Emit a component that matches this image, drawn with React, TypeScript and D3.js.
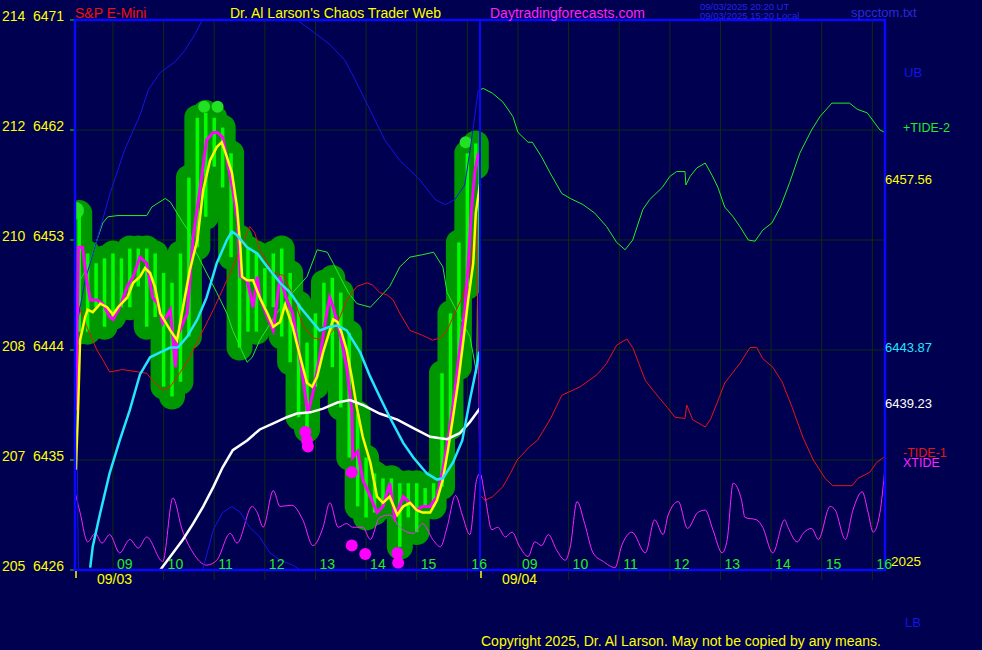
import * as d3 from "d3";

// time = minutes after 08:15 on 09/03 (the 09/04 session starts at 480)
type Pt = [number, number];

const priceTicks = [6471, 6462, 6453, 6444, 6435, 6426];
const altTicks = ["214", "212", "210", "208", "207", "205"];
const hourLabels = ["09", "10", "11", "12", "13", "14", "15", "16"];
const dayLabels = ["09/03", "09/04"];

const lastYellow = 6457.56;
const lastCyan = 6443.87;
const lastWhite = 6439.23;

// +TIDE-2
const tide2: Pt[] = [
  [6, 6449.7], [18, 6451.2], [26, 6453.0], [33, 6454.4], [39, 6454.9], [51, 6455.0], [85, 6455.0],
  [91, 6455.7], [107, 6456.4], [113, 6456.1], [121, 6455.2], [128, 6454.4], [136, 6453.6], [142, 6452.2],
  [156, 6450.3], [168, 6448.7], [180, 6447.0], [187, 6445.6], [196, 6444.2], [204, 6443.0], [210, 6443.4],
  [219, 6444.8], [239, 6447.0], [258, 6448.7], [275, 6450.0], [287, 6452.2], [299, 6452.0], [306, 6451.1],
  [314, 6450.0], [324, 6448.7], [334, 6447.8], [350, 6447.5], [361, 6448.3], [373, 6449.2], [385, 6450.8],
  [397, 6451.6], [412, 6451.8], [425, 6452.0], [436, 6450.8], [441, 6448.7], [456, 6446.7], [468, 6445.1],
  [476, 6442.1],
  [480, 6465.3], [484, 6465.4], [495, 6465.0], [507, 6464.3], [519, 6463.1], [525, 6461.8], [537, 6461.0],
  [542, 6461.0], [553, 6459.8], [563, 6458.5], [577, 6456.8], [587, 6456.4], [602, 6455.9], [616, 6455.2],
  [630, 6454.1], [642, 6452.8], [652, 6452.2], [661, 6453.0], [673, 6455.5], [681, 6456.3], [696, 6457.3],
  [705, 6458.2], [713, 6458.6], [723, 6458.6], [724, 6457.5], [729, 6458.2], [737, 6458.9], [747, 6459.3],
  [755, 6458.3], [762, 6457.3], [770, 6455.7], [780, 6454.9], [788, 6454.1], [798, 6453.0], [806, 6452.9],
  [815, 6453.8], [826, 6454.4], [836, 6455.7], [847, 6457.7], [859, 6460.1], [873, 6462.0], [883, 6463.1],
  [897, 6464.2], [918, 6464.2], [927, 6463.7], [939, 6463.4], [954, 6462.0], [960, 6461.8],
];

// -TIDE-1
const tide1: Pt[] = [
  [2, 6448.1], [8, 6446.9], [14, 6445.9], [26, 6444.0], [33, 6443.2], [41, 6442.2], [56, 6442.4],
  [85, 6442.1], [92, 6441.5], [104, 6440.7], [113, 6441.0], [124, 6442.1], [136, 6443.4], [148, 6445.1],
  [164, 6447.3], [180, 6449.7], [192, 6451.6], [204, 6453.6], [207, 6454.1], [213, 6453.6], [219, 6452.2],
  [235, 6450.3], [247, 6450.1], [258, 6448.5], [270, 6446.0], [282, 6445.0], [294, 6444.8], [306, 6445.6],
  [314, 6446.7], [322, 6448.1], [334, 6449.2], [346, 6449.5], [353, 6449.3], [361, 6448.7], [370, 6448.5],
  [377, 6448.1], [385, 6447.0], [397, 6445.6], [412, 6445.2], [424, 6444.8], [433, 6445.0], [441, 6445.6],
  [448, 6446.7], [459, 6448.3], [468, 6450.5], [476, 6455.2],
  [480, 6432.1], [486, 6431.7], [495, 6432.0], [507, 6432.8], [516, 6433.9], [524, 6435.0], [539, 6436.1],
  [548, 6436.6], [563, 6438.3], [577, 6440.3], [599, 6441.0], [619, 6442.0], [630, 6442.9], [642, 6444.4],
  [654, 6444.9], [661, 6444.2], [676, 6441.5], [685, 6440.7], [702, 6439.3], [711, 6438.5], [723, 6438.4],
  [725, 6439.5], [732, 6438.3], [747, 6437.7], [753, 6438.3], [764, 6440.2], [770, 6441.3], [788, 6442.9],
  [800, 6444.2], [808, 6444.2], [815, 6443.3], [827, 6442.6], [838, 6441.4], [850, 6439.3], [863, 6436.8],
  [875, 6435.0], [889, 6433.5], [898, 6432.9], [921, 6432.9], [928, 6433.5], [942, 6434.0], [950, 6434.8],
  [960, 6435.3],
];

// XTIDE
const xtide: Pt[] = [
  [0, 6432.4], [6, 6430.7], [15, 6428.3], [24, 6429.0], [32, 6428.2], [41, 6428.9], [53, 6427.4],
  [65, 6428.5], [75, 6427.8], [85, 6428.7], [104, 6426.7], [116, 6431.9], [127, 6429.3], [140, 6427.4],
  [156, 6426.4], [168, 6426.8], [184, 6429.0], [192, 6428.2], [210, 6431.2], [216, 6430.7], [223, 6429.5],
  [235, 6432.5], [243, 6431.2], [257, 6431.3], [270, 6430.1], [282, 6428.0], [294, 6429.5], [302, 6431.5],
  [312, 6429.5], [322, 6429.8], [329, 6429.5], [341, 6429.5], [350, 6428.5], [361, 6430.3], [373, 6430.5],
  [385, 6429.5], [401, 6429.0], [412, 6429.8], [424, 6428.5], [433, 6427.9], [441, 6429.5], [451, 6432.1],
  [459, 6430.5], [468, 6428.9], [476, 6433.4],
  [480, 6433.9], [486, 6432.0], [494, 6429.3], [501, 6429.5], [510, 6428.7], [518, 6429.1], [527, 6427.9],
  [537, 6427.1], [545, 6428.3], [553, 6428.0], [561, 6428.9], [571, 6427.6], [581, 6426.8], [587, 6427.9],
  [595, 6431.6], [604, 6429.8], [614, 6427.4], [626, 6426.7], [640, 6426.2], [648, 6428.0], [660, 6429.1],
  [676, 6427.4], [687, 6430.1], [697, 6428.9], [703, 6430.5], [715, 6431.6], [726, 6429.4], [738, 6430.7],
  [747, 6430.9], [756, 6429.3], [767, 6427.4], [773, 6428.5], [780, 6433.1], [790, 6431.7], [794, 6430.3],
  [808, 6430.1], [815, 6429.5], [827, 6427.4], [841, 6430.1], [845, 6429.5], [856, 6428.3], [863, 6429.0],
  [873, 6429.4], [881, 6428.5], [895, 6431.2], [901, 6430.9], [913, 6428.5], [922, 6430.9], [933, 6432.4],
  [940, 6430.7], [946, 6429.1], [954, 6430.7], [960, 6434.4],
];

// UB / LB bands (09/03 only)
const upperBand: Pt[] = [
  [1, 6445.6], [12, 6449.7], [26, 6453.0], [41, 6456.7], [59, 6460.4], [77, 6463.2], [87, 6465.3],
  [101, 6466.7], [119, 6467.6], [130, 6468.5], [142, 6469.8], [151, 6471.0], [172, 6472.6], [207, 6473.9],
  [243, 6473.1], [263, 6471.0], [279, 6470.2], [302, 6469.0], [320, 6467.7], [332, 6466.1], [350, 6463.6],
  [367, 6461.2], [385, 6459.5], [409, 6457.9], [427, 6456.3], [439, 6455.9], [450, 6456.3], [462, 6457.5],
  [470, 6461.2], [478, 6465.3],
];
const lowerBand: Pt[] = [
  [1, 6445.6], [2, 6439.9], [4, 6426.0], [5, 6421.9], [77, 6419.5], [136, 6421.9], [152, 6426.2],
  [164, 6429.3], [175, 6430.7], [186, 6431.2], [196, 6430.7], [207, 6429.5], [219, 6428.7], [231, 6427.4],
  [243, 6426.8], [258, 6426.4], [267, 6426.0], [302, 6421.9], [478, 6420.0],
];

const cyanAvg: Pt[] = [
  [18, 6426.2], [21, 6427.9], [30, 6430.7], [41, 6433.9], [53, 6436.6], [65, 6439.1], [77, 6442.0],
  [89, 6443.4], [101, 6443.8], [113, 6444.2], [122, 6444.2], [133, 6445.1], [145, 6446.5], [156, 6448.3],
  [168, 6451.1], [180, 6453.0], [186, 6453.7], [192, 6453.4], [204, 6452.4], [216, 6451.9], [228, 6450.8],
  [243, 6449.5], [255, 6448.7], [267, 6447.5], [279, 6446.5], [290, 6445.6], [302, 6445.9], [311, 6446.0],
  [322, 6445.6], [329, 6444.8], [338, 6443.8], [350, 6441.8], [361, 6440.2], [373, 6438.5], [389, 6436.4],
  [401, 6435.2], [417, 6433.9], [429, 6433.4], [436, 6433.5], [448, 6434.8], [459, 6436.6], [468, 6439.9],
  [476, 6442.6], [479, lastCyan],
];

const whiteAvg: Pt[] = [
  [101, 6426.0], [113, 6427.1], [128, 6428.5], [140, 6429.8], [152, 6431.2], [164, 6432.8], [175, 6434.4],
  [187, 6435.8], [204, 6436.6], [219, 6437.5], [235, 6438.0], [251, 6438.5], [263, 6438.8], [279, 6438.9],
  [294, 6439.2], [311, 6439.7], [326, 6439.9], [341, 6439.5], [361, 6438.8], [382, 6438.3], [401, 6437.6],
  [421, 6436.9], [441, 6436.7], [456, 6437.2], [468, 6438.1], [480, lastWhite],
];

const yellowAvg: Pt[] = [
  [1, 6434.2], [4, 6439.9], [6, 6444.8], [12, 6446.7], [15, 6447.3], [21, 6447.1], [30, 6447.8],
  [38, 6447.5], [45, 6446.9], [51, 6447.5], [62, 6448.3], [69, 6449.5], [77, 6450.0], [83, 6450.7],
  [89, 6450.3], [95, 6449.1], [101, 6447.0], [113, 6445.6], [121, 6444.8], [128, 6447.5], [136, 6450.5],
  [145, 6453.0], [152, 6457.1], [160, 6459.5], [168, 6460.6], [174, 6461.0], [180, 6459.8], [186, 6458.5],
  [192, 6455.7], [196, 6452.4], [198, 6450.0], [204, 6449.7], [211, 6449.7], [219, 6448.3], [228, 6447.0],
  [235, 6445.9], [243, 6446.3], [249, 6447.7], [258, 6445.9], [267, 6443.4], [275, 6441.3], [281, 6441.0],
  [287, 6441.8], [294, 6443.8], [302, 6445.6], [306, 6446.5], [311, 6446.3], [316, 6445.4], [322, 6444.0],
  [328, 6441.8], [334, 6439.3], [341, 6436.9], [350, 6434.8], [358, 6432.0], [365, 6431.5], [373, 6432.0],
  [382, 6430.5], [389, 6431.2], [397, 6431.5], [405, 6430.9], [412, 6430.7], [421, 6430.7], [429, 6431.7],
  [436, 6433.4], [442, 6435.8], [448, 6438.5], [454, 6441.3], [460, 6444.6], [466, 6448.1], [472, 6451.1],
  [475, 6455.2], [480, lastYellow],
];

const closeLine: Pt[] = [
  [1, 6439.1], [4, 6452.4], [9, 6452.4], [14, 6449.7], [18, 6448.1], [26, 6448.1], [33, 6447.8],
  [41, 6446.7], [45, 6446.5], [53, 6447.5], [62, 6449.2], [69, 6450.0], [77, 6451.6], [85, 6451.1],
  [92, 6448.3], [98, 6447.8], [104, 6446.2], [113, 6447.3], [119, 6442.6], [121, 6445.1], [133, 6447.0],
  [140, 6453.2], [148, 6457.1], [156, 6461.2], [164, 6461.8], [169, 6461.8], [175, 6461.4], [181, 6459.3],
  [187, 6457.1], [193, 6454.4], [196, 6450.0], [204, 6449.7], [211, 6447.5], [216, 6450.0], [219, 6448.3],
  [228, 6446.7], [235, 6445.6], [243, 6450.0], [251, 6448.1], [258, 6447.0], [267, 6443.2], [276, 6438.8],
  [282, 6440.5], [290, 6443.4], [299, 6447.3], [302, 6448.3], [306, 6447.5], [314, 6445.4], [322, 6442.6],
  [328, 6439.1], [329, 6435.2], [335, 6435.7], [341, 6433.4], [350, 6432.0], [358, 6430.7], [365, 6431.2],
  [373, 6433.1], [379, 6430.3], [389, 6432.0], [397, 6431.5], [405, 6430.9], [412, 6431.2], [421, 6431.2],
  [429, 6432.0], [436, 6434.2], [444, 6437.5], [450, 6440.5], [456, 6444.0], [462, 6447.3], [466, 6451.0],
  [470, 6455.6], [474, 6458.6], [478, 6460.1],
];

// 10-minute bars on 09/03, high and low
const barHigh = [
  6455.2, 6451.9, 6451.1, 6451.5, 6451.9, 6451.5, 6452.3, 6452.3, 6452.3, 6451.9, 6450.3, 6449.5,
  6451.9, 6458.1, 6463.0, 6463.4, 6463.0, 6462.2, 6460.1, 6453.2, 6452.3, 6451.9, 6450.7, 6451.9,
  6452.3, 6450.3, 6447.8, 6444.6, 6447.0, 6449.5, 6449.9, 6448.7, 6445.4, 6438.8, 6435.2, 6433.9,
  6433.5, 6433.5, 6433.1, 6433.1, 6433.1, 6432.7, 6433.1, 6442.1, 6447.0, 6452.8, 6460.1, 6460.9,
];
const barLow = [
  6445.5, 6445.5, 6447.5, 6445.9, 6446.7, 6447.5, 6447.5, 6449.2, 6445.9, 6446.7, 6441.0, 6440.2,
  6441.4, 6445.1, 6452.4, 6454.9, 6459.0, 6457.3, 6451.6, 6444.2, 6445.5, 6445.5, 6447.5, 6447.5,
  6445.1, 6443.0, 6438.5, 6437.5, 6441.0, 6445.9, 6442.6, 6439.3, 6435.2, 6431.2, 6430.3, 6430.7,
  6431.2, 6431.6, 6427.9, 6430.3, 6429.1, 6431.2, 6431.2, 6432.8, 6437.7, 6442.6, 6449.2, 6459.0,
];

const lowDots: Pt[] = [
  [273, 6437.3], [275, 6436.6], [276, 6436.1], [328, 6434.0], [328, 6428.0], [344, 6427.3],
  [382, 6427.4], [383, 6426.6],
];
const highBalls: Pt[] = [[0, 6455.4], [153, 6463.9], [169, 6463.9], [463, 6461.0]];

const FONT = "'Liberation Sans', Arial, sans-serif";

export default function App() {
  const left = 75, right = 885, top = 20, bottom = 570;
  const x = d3.scaleLinear().domain([0, 960]).range([left, right]);
  const y = d3.scaleLinear().domain([6426, 6471]).range([bottom, top]);

  const line = d3.line<Pt>().x((d) => x(d[0])).y((d) => y(d[1]));
  const smooth = d3.line<Pt>().x((d) => x(d[0])).y((d) => y(d[1])).curve(d3.curveMonotoneX);

  const hourTicks = [0, 480].flatMap((day) => hourLabels.map((h, k) => ({ m: day + 45 + 60 * k, h })));

  return (
    <svg width={982} height={650} style={{ position: "fixed", left: 0, top: 0 }} fontFamily={FONT}>
      <defs>
        <clipPath id="plot">
          <rect x={left} y={top} width={right - left} height={bottom - top} />
        </clipPath>
      </defs>
      <rect width={982} height={650} fill="#000050" />

      {/* grid */}
      {priceTicks.slice(1, -1).map((p) => (
        <line key={p} x1={left - 5} x2={right} y1={y(p)} y2={y(p)} stroke="#0f2c10" />
      ))}
      {hourTicks.map((t) => (
        <line key={t.m} x1={x(t.m)} x2={x(t.m)} y1={top} y2={bottom + 10} stroke="#0f2c10" />
      ))}

      {/* left labels */}
      {priceTicks.map((p, i) => (
        <g key={p}>
          <line x1={left - 5} x2={left} y1={y(p)} y2={y(p)} stroke="#22cc22" />
          <text x={2} y={y(p) + 1} fill="#ffff00" fontSize={14}>{altTicks[i]}</text>
          <text x={33} y={y(p) + 1} fill="#ffff00" fontSize={14}>{p}</text>
        </g>
      ))}

      <g clipPath="url(#plot)">
        {/* price bars */}
        {barHigh.map((h, i) => {
          const cx = x(10 * i + 5);
          const y1 = y(h), y2 = y(barLow[i]);
          return (
            <rect key={"b" + i} x={cx - 13} y={y1 - 13} width={26} height={y2 - y1 + 26} rx={13} fill="#009800" />
          );
        })}
        {highBalls.map((d, i) => (
          <circle key={"h" + i} cx={x(d[0])} cy={y(d[1])} r={i === 0 ? 9 : 6} fill="#22e022" />
        ))}
        {barHigh.map((h, i) => (
          <line key={"l" + i} x1={x(10 * i + 5)} x2={x(10 * i + 5)} y1={y(h)} y2={y(barLow[i])}
            stroke="#00ff00" strokeWidth={3.5} />
        ))}

        {/* tides and bands */}
        <path d={line(tide2) ?? ""} fill="none" stroke="#22ee22" strokeWidth={1} />
        <path d={line(tide1) ?? ""} fill="none" stroke="#ee1111" strokeWidth={1} />
        <path d={smooth(xtide) ?? ""} fill="none" stroke="#ff22ff" strokeWidth={1} />
        <path d={line(upperBand) ?? ""} fill="none" stroke="#1414e6" strokeWidth={1} />
        <path d={line(lowerBand) ?? ""} fill="none" stroke="#1414e6" strokeWidth={1} />

        {/* price and averages */}
        <path d={line(closeLine) ?? ""} fill="none" stroke="#ff00ff" strokeWidth={3} />
        <path d={line(yellowAvg) ?? ""} fill="none" stroke="#ffff00" strokeWidth={2.5} />
        <path d={line(whiteAvg) ?? ""} fill="none" stroke="#ffffff" strokeWidth={2.5} />
        <path d={line(cyanAvg) ?? ""} fill="none" stroke="#22e6ff" strokeWidth={2.5} />
        {lowDots.map((d, i) => (
          <circle key={"d" + i} cx={x(d[0])} cy={y(d[1])} r={6} fill="#ff00ff" />
        ))}
      </g>

      {/* frame */}
      <rect x={left} y={top} width={right - left} height={bottom - top} fill="none" stroke="#0808ff" strokeWidth={2.5} />
      <line x1={x(480)} x2={x(480)} y1={top} y2={bottom} stroke="#0808ff" strokeWidth={2} />

      {/* time axis */}
      {hourTicks.map((t) => (
        <text key={"t" + t.m} x={x(t.m) + 4} y={bottom - 1} fill="#22ee22" fontSize={14}>{t.h}</text>
      ))}
      {dayLabels.map((d, i) => (
        <g key={d}>
          <line x1={x(i * 480) + 1} x2={x(i * 480) + 1} y1={bottom + 1} y2={bottom + 8} stroke="#ffff00" strokeWidth={1.5} />
          <text x={x(i * 480) + 22} y={bottom + 14} fill="#ffff00" fontSize={14}>{d}</text>
        </g>
      ))}

      {/* header */}
      <text x={75} y={18} fill="#ee1111" fontSize={14}>S&amp;P E-Mini</text>
      <text x={230} y={18} fill="#ffff00" fontSize={14}>Dr. Al Larson's Chaos Trader Web</text>
      <text x={490} y={18} fill="#ff22ff" fontSize={14}>Daytradingforecasts.com</text>
      <text x={700} y={9.5} fill="#2424e8" fontSize={9.5}>09/03/2025 20:20 UT</text>
      <text x={700} y={19} fill="#2424e8" fontSize={9.5}>09/03/2025 15:20 Local</text>
      <text x={851} y={17} fill="#2a2ad8" fontSize={13}>spcctom.txt</text>

      {/* right labels */}
      <text x={904} y={77} fill="#1414e6" fontSize={13}>UB</text>
      <text x={903} y={132} fill="#22ee22" fontSize={12.5}>+TIDE-2</text>
      <text x={885} y={y(lastYellow)} fill="#ffff00" fontSize={13}>{lastYellow.toFixed(2)}</text>
      <text x={885} y={y(lastCyan)} fill="#22e6ff" fontSize={13}>{lastCyan.toFixed(2)}</text>
      <text x={885} y={y(lastWhite)} fill="#ffffff" fontSize={13}>{lastWhite.toFixed(2)}</text>
      <text x={903} y={457} fill="#ee1111" fontSize={12.5}>-TIDE-1</text>
      <text x={903} y={467} fill="#ff22ff" fontSize={12.5}>XTIDE</text>
      <text x={891} y={566} fill="#ffff00" fontSize={13.5}>2025</text>
      <text x={905} y={627} fill="#1414e6" fontSize={13}>LB</text>
      <text x={481} y={646} fill="#ffff00" fontSize={14}>Copyright 2025, Dr. Al Larson. May not be copied by any means.</text>
    </svg>
  );
}
